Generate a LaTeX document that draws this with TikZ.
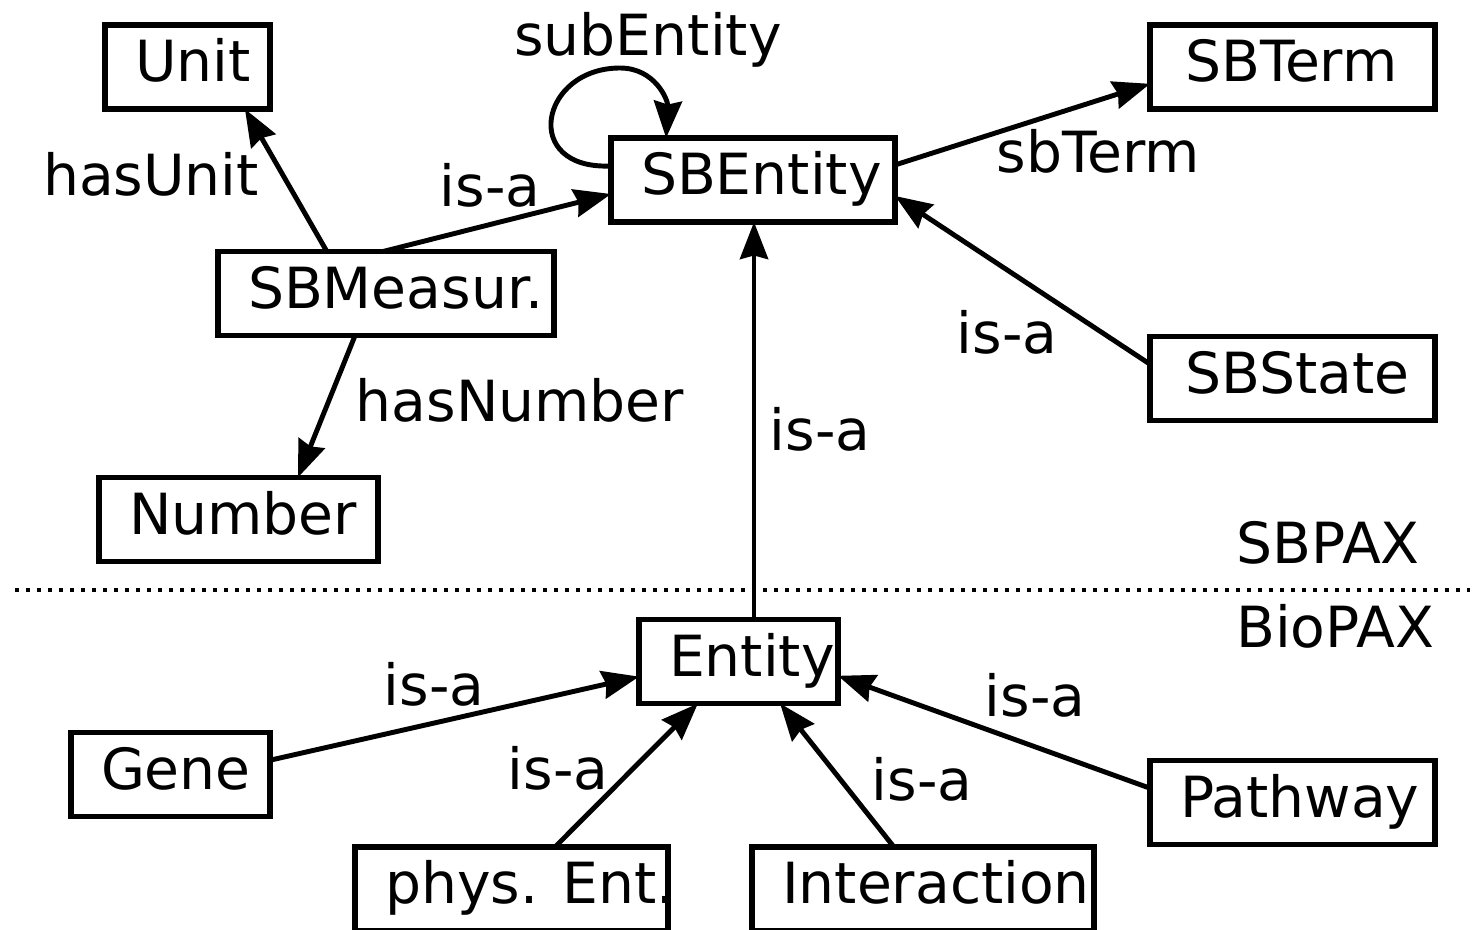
\documentclass[tikz,border=0pt]{standalone}
\usepackage{fontspec}
\setmainfont{DejaVu Sans}
\usetikzlibrary{arrows.meta,calc}
\newcommand\lbox[2]{\makebox[#1][l]{#2}}
\begin{document}
\begin{tikzpicture}[x=0.02cm,y=-0.02cm,
  every node/.style={font=\fontsize{32.3}{38}\selectfont},
  box/.style={draw, line width=3.1pt, inner xsep=0.6cm, inner ysep=0pt,
    minimum height=1.68cm, outer sep=0pt, text height=24.5pt, text depth=7.7pt},
  lab/.style={inner sep=0pt, anchor=base},
  conn/.style={line width=2.8pt, -{Stealth[length=0.74cm,width=0.56cm,inset=0.07cm]}},
  sep/.style={line width=0.08cm, dash pattern=on 0.08cm off 0.14cm},
]
\useasboundingbox (0,0) rectangle (1476,929);

% SBPAX nodes
\node[box] (unit)    at (187.5,67)   {\lbox{2.1cm}{Unit}};
\node[box] (sbterm)  at (1292.5,67)  {\lbox{4.5cm}{\hspace{0.1cm}SBTerm}};
\node[box] (sbe)     at (753,180)    {\lbox{4.48cm}{SBEntity}};
\node[box] (sbm)     at (386,293.5)  {\lbox{5.52cm}{SBMeasur.}};
\node[box] (sbstate) at (1292.5,378.5) {\lbox{4.5cm}{\hspace{0.1cm}SBState}};
\node[box] (number)  at (238.5,519.5) {\lbox{4.38cm}{Number}};

% BioPAX nodes
\node[box] (entity)  at (738.5,661.5) {\lbox{2.78cm}{Entity}};
\node[box] (gene)    at (170.5,774.5) {\lbox{2.78cm}{Gene}};
\node[box] (pathway) at (1292.5,802.5) {\lbox{4.5cm}{Pathway}};
\node[box] (phys)    at (511.5,889)   {\lbox{5.06cm}{phys. Ent.}};
\node[box] (inter)   at (923,889)     {\lbox{5.64cm}{Interaction}};

% separator
\draw[sep] (15,590) -- (1470,590);
\node[lab] (sbpax)  at (1328,563) {SBPAX};
\node[lab] (biopax) at (1335,647) {BioPAX};

% connectors
\draw[conn] ($(sbm.north west)!0.324!(sbm.north east)$) -- ($(unit.south west)!0.848!(unit.south east)$);
\draw[conn] ($(sbm.north west)!0.491!(sbm.north east)$) -- ($(sbe.north west)!0.667!(sbe.south west)$);
\draw[conn] ($(sbm.south west)!0.408!(sbm.south east)$) -- ($(number.north west)!0.713!(number.north east)$);
\draw[conn] ($(sbe.north east)!0.321!(sbe.south east)$) -- ($(sbterm.north west)!0.70!(sbterm.south west)$);
\draw[conn] ($(sbstate.north west)!0.33!(sbstate.south west)$) -- ($(sbe.north east)!0.69!(sbe.south east)$);
\draw[conn] ($(entity.north west)!0.578!(entity.north east)$) coordinate (eup) -- (eup |- sbe.south);
\draw[conn] ($(sbe.north west)!0.333!(sbe.south west)$)
  .. controls (520,170) and (540,68) .. (620,68)
  .. controls (655,68) and (668,100) .. ($(sbe.north west)!0.194!(sbe.north east)$);

\draw[conn] ($(gene.north east)!0.33!(gene.south east)$) -- ($(entity.north west)!0.68!(entity.south west)$);
\draw[conn] ($(phys.north west)!0.639!(phys.north east)$) -- ($(entity.south west)!0.296!(entity.south east)$);
\draw[conn] ($(inter.north west)!0.415!(inter.north east)$) -- ($(entity.south west)!0.709!(entity.south east)$);
\draw[conn] ($(pathway.north west)!0.33!(pathway.south west)$) -- ($(entity.north east)!0.67!(entity.south east)$);

% labels
\node[lab] (l1)  at (648,56)  {subEntity};
\node[lab] (l2)  at (151,195) {hasUnit};
\node[lab] (l3)  at (490,207) {is-a};
\node[lab] (l4)  at (1098,173) {sbTerm};
\node[lab] (l5)  at (1007,353) {is-a};
\node[lab] (l6)  at (520,421) {hasNumber};
\node[lab] (l7)  at (820,450) {is-a};
\node[lab] (l8)  at (434,705) {is-a};
\node[lab] (l9)  at (558,789) {is-a};
\node[lab] (l10) at (1035,716) {is-a};
\node[lab] (l11) at (922,800) {is-a};
\end{tikzpicture}
\end{document}
